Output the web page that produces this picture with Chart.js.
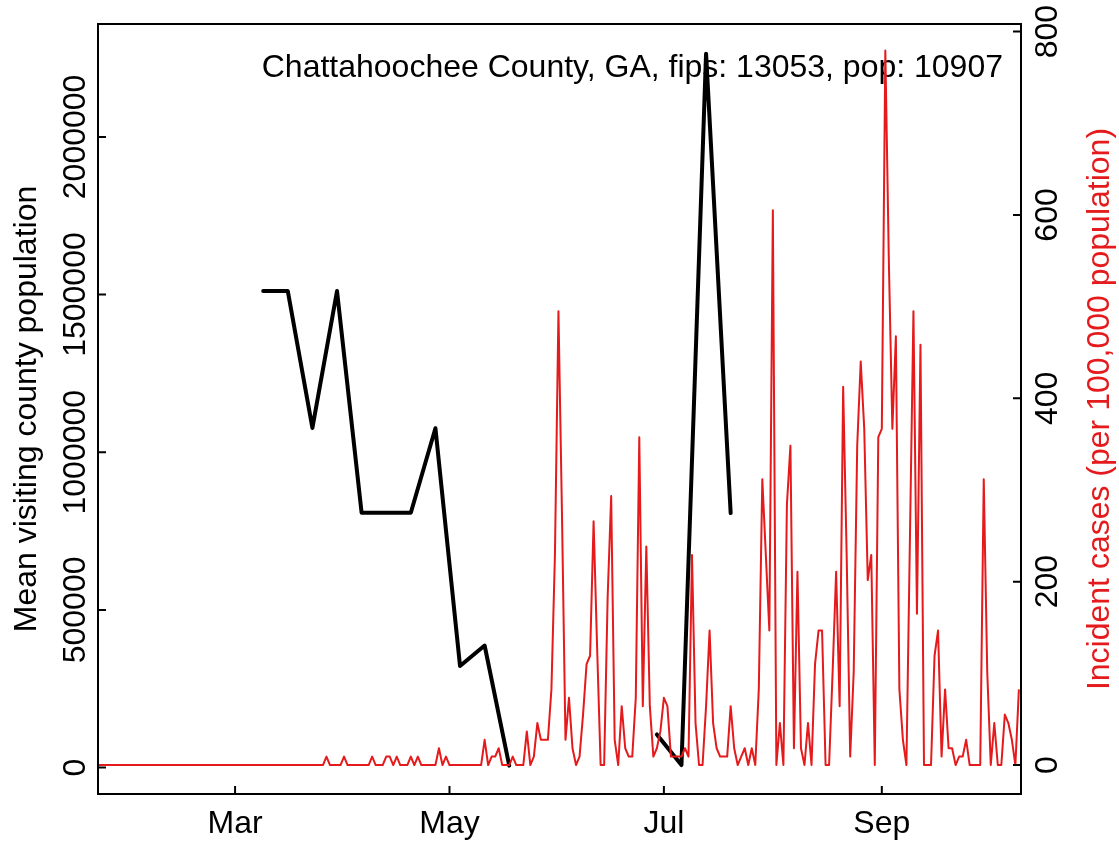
<!DOCTYPE html>
<html>
<head>
<meta charset="utf-8">
<script src="https://cdn.jsdelivr.net/npm/chart.js@4.4.1/dist/chart.umd.min.js"></script>
<style>
  body { margin: 0; background: #ffffff; }
  canvas { display: block; }
</style>
</head>
<body>
<canvas id="myChart" width="1119" height="842"></canvas>
<script>
// daily incident cases per 100,000, starting on caseStart
var caseStart = '2020-01-22';
var incidence = [
  0, 0, 0, 0, 0, 0, 0, 0, 0, 0,
  0, 0, 0, 0, 0, 0, 0, 0, 0, 0,
  0, 0, 0, 0, 0, 0, 0, 0, 0, 0,
  0, 0, 0, 0, 0, 0, 0, 0, 0, 0,
  0, 0, 0, 0, 0, 0, 0, 0, 0, 0,
  0, 0, 0, 0, 0, 0, 0, 0, 0, 0,
  0, 0, 0, 0, 0, 9.2, 0, 0, 0, 0,
  9.2, 0, 0, 0, 0, 0, 0, 0, 9.2, 0,
  0, 0, 9.2, 9.2, 0, 9.2, 0, 0, 0, 9.2,
  0, 9.2, 0, 0, 0, 0, 0, 18.3, 0, 9.2,
  0, 0, 0, 0, 0, 0, 0, 0, 0, 0,
  27.5, 0, 9.2, 9.2, 18.3, 0, 0, 0, 9.2, 0,
  0, 0, 36.7, 0, 9.2, 45.8, 27.5, 27.5, 27.5, 82.5,
  229.2, 495.1, 275.1, 27.5, 73.3, 18.3, 0, 9.2, 55.0, 110.0,
  119.2, 265.9, 128.4, 0, 0, 183.4, 293.4, 27.5, 0, 64.2,
  18.3, 9.2, 9.2, 73.3, 357.6, 64.2, 238.4, 64.2, 9.2, 18.3,
  36.7, 73.3, 64.2, 9.2, 9.2, 9.2, 9.2, 18.3, 9.2, 229.2,
  45.8, 0, 0, 64.2, 146.7, 45.8, 18.3, 9.2, 9.2, 9.2,
  64.2, 18.3, 0, 9.2, 18.3, 0, 18.3, 0, 82.5, 311.7,
  229.2, 146.7, 605.1, 0, 45.8, 0, 284.2, 348.4, 18.3, 210.9,
  18.3, 0, 45.8, 0, 110.0, 146.7, 146.7, 0, 0, 100.9,
  210.9, 64.2, 412.6, 229.2, 9.2, 100.9, 348.4, 440.1, 366.7, 201.7,
  229.2, 0, 357.6, 366.7, 779.3, 550.1, 366.7, 467.6, 82.5, 27.5,
  0, 247.5, 495.1, 165.0, 458.4, 0, 0, 0, 119.2, 146.7,
  9.2, 82.5, 18.3, 18.3, 0, 9.2, 9.2, 27.5, 0, 0,
  0, 0, 311.7, 100.9, 0, 45.8, 0, 0, 55.0, 45.8,
  27.5, 0, 82.5
];

// weekly mean visiting county population (null = missing week)
var visitDates = ['2020-03-09', '2020-03-16', '2020-03-23', '2020-03-30', '2020-04-06',
  '2020-04-13', '2020-04-20', '2020-04-27', '2020-05-04', '2020-05-11', '2020-05-18',
  '2020-05-25', '2020-06-01', '2020-06-08', '2020-06-15', '2020-06-22',
  '2020-06-29', '2020-07-06', '2020-07-13', '2020-07-20'];
var visitPop = [1511000, 1511000, 1077000, 1511000, 808000,
  808000, 808000, 1076000, 322000, 387000, 6000,
  null, null, null, null, null,
  105000, 8000, 2264000, 807000];

var monthTicks = ['2020-03-01', '2020-05-01', '2020-07-01', '2020-09-01'];
var monthLabels = ['Mar', 'May', 'Jul', 'Sep'];
var leftTicks = [0, 500000, 1000000, 1500000, 2000000];
var rightTicks = [0, 200, 400, 600, 800];

var titleText = 'Chattahoochee County, GA, fips: 13053, pop: 10907';
var leftTitle = 'Mean visiting county population';
var rightTitle = 'Incident cases (per 100,000 population)';

var RED = '#E41A1C';
var FONT = '32px "Liberation Sans", Arial, sans-serif';

function dayNum(d) {
  return Math.round((Date.parse(d) - Date.parse(caseStart)) / 86400000);
}

var redData = incidence.map(function (v, i) {
  return { x: i, y: v };
});
var blackData = visitDates.map(function (d, j) {
  return { x: dayNum(d), y: visitPop[j] };
});

function rotText(ctx, txt, x, y) {
  ctx.save();
  ctx.translate(x, y);
  ctx.rotate(-Math.PI / 2);
  ctx.fillText(txt, 0, 0);
  ctx.restore();
}

// base-R style box, inward ticks and labels
var rAxes = {
  id: 'rAxes',
  beforeDatasetsDraw: function (chart) {
    var ctx = chart.ctx;
    ctx.save();
    ctx.font = FONT;
    ctx.fillStyle = '#000';
    ctx.textAlign = 'right';
    ctx.textBaseline = 'alphabetic';
    ctx.fillText(titleText, 1003, 77);
    ctx.restore();
  },
  afterDraw: function (chart) {
    var ctx = chart.ctx;
    var a = chart.chartArea;
    var sx = chart.scales.x, sy = chart.scales.y, sy2 = chart.scales.y2;
    ctx.save();
    ctx.strokeStyle = '#000';
    ctx.lineWidth = 2;
    ctx.strokeRect(a.left, a.top, a.right - a.left, a.bottom - a.top);

    ctx.font = FONT;
    ctx.fillStyle = '#000';
    ctx.beginPath();
    monthTicks.forEach(function (d) {
      var px = sx.getPixelForValue(dayNum(d));
      ctx.moveTo(px, a.bottom);
      ctx.lineTo(px, a.bottom - 8);
    });
    leftTicks.forEach(function (v) {
      var py = sy.getPixelForValue(v);
      ctx.moveTo(a.left, py);
      ctx.lineTo(a.left + 8, py);
    });
    rightTicks.forEach(function (v) {
      var py = sy2.getPixelForValue(v);
      ctx.moveTo(a.right, py);
      ctx.lineTo(a.right - 8, py);
    });
    ctx.stroke();

    ctx.textAlign = 'center';
    ctx.textBaseline = 'alphabetic';
    monthTicks.forEach(function (d, k) {
      ctx.fillText(monthLabels[k], sx.getPixelForValue(dayNum(d)), 833);
    });
    leftTicks.forEach(function (v) {
      rotText(ctx, String(v), 85, sy.getPixelForValue(v));
    });
    rightTicks.forEach(function (v) {
      rotText(ctx, String(v), 1057, sy2.getPixelForValue(v));
    });

    var midY = (a.top + a.bottom) / 2;
    rotText(ctx, leftTitle, 36, midY);
    ctx.fillStyle = RED;
    rotText(ctx, rightTitle, 1109, midY);
    ctx.restore();
  }
};

var chartData = {
  datasets: [
    {
      label: 'Incident cases',
      data: redData,
      yAxisID: 'y2',
      borderColor: RED,
      borderWidth: 2,
      fill: false,
      tension: 0,
      borderJoinStyle: 'round'
    },
    {
      label: 'Mean visiting county population',
      data: blackData,
      yAxisID: 'y',
      borderColor: '#000',
      borderWidth: 4,
      fill: false,
      tension: 0,
      spanGaps: false,
      borderCapStyle: 'round',
      borderJoinStyle: 'round'
    }
  ]
};

var chart = document.getElementById('myChart').getContext('2d');
var myChart = new Chart(chart, {
  type: 'line',
  data: chartData,
  plugins: [rAxes],
  options: {
    responsive: false,
    animation: false,
    elements: {
      point: {
        radius: 0
      }
    },
    layout: {
      padding: { left: 98, right: 98, top: 24, bottom: 48 }
    },
    scales: {
      x: { type: 'linear', min: 0, max: 262.6, display: false },
      y: { min: -83900, max: 2358000, display: false },
      y2: { min: -31.6, max: 808.3, display: false, position: 'right' }
    },
    plugins: {
      legend: { display: false },
      tooltip: { enabled: false }
    }
  }
});
</script>
</body>
</html>
